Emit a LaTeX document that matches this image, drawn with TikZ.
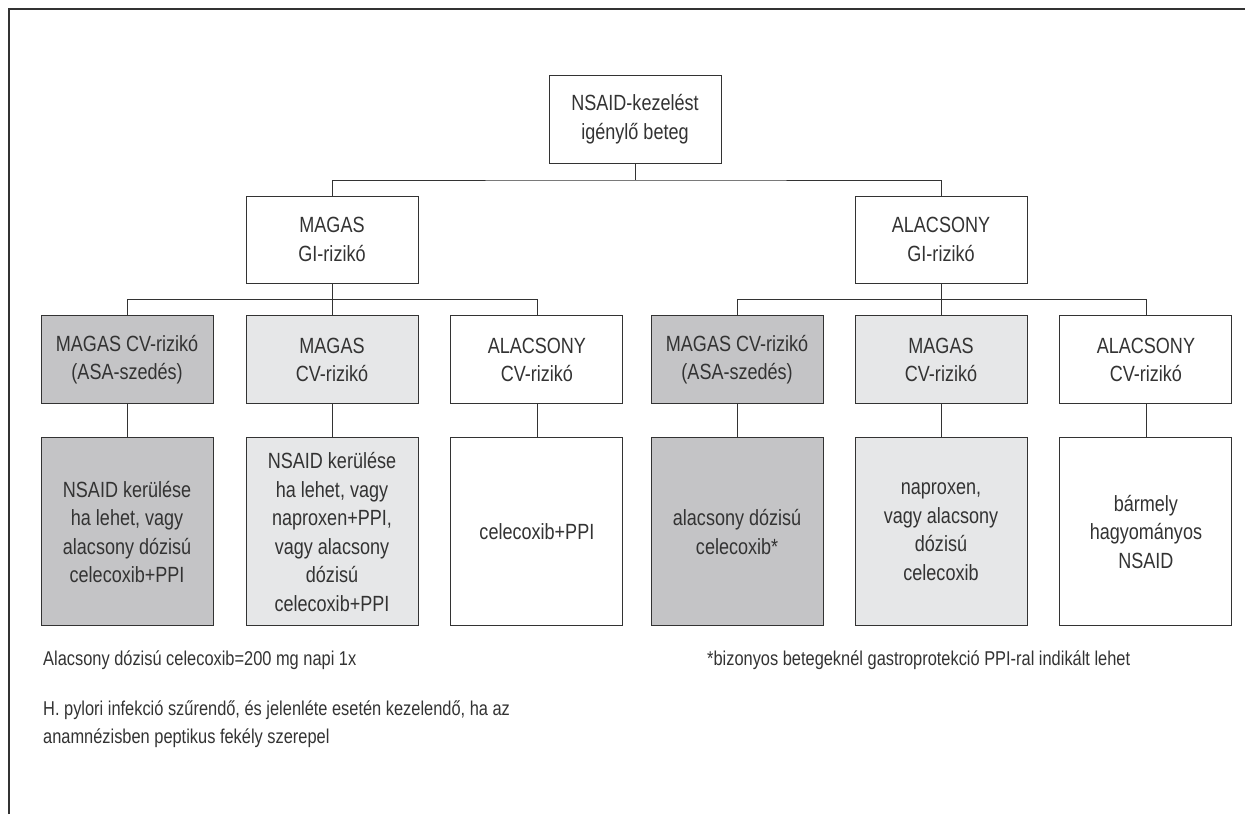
\documentclass[tikz,border=0pt]{standalone}
\usepackage{fontspec}
\setmainfont{Liberation Sans}[FakeStretch=0.82]
\usetikzlibrary{positioning}
\definecolor{ink}{HTML}{333333}
\definecolor{darkfill}{HTML}{C4C4C6}
\definecolor{lightfill}{HTML}{E6E7E8}
\begin{document}
\begin{tikzpicture}[x=1pt,y=-1pt,
  box/.style={draw=ink,line width=0.9pt,fill=white,text=ink,align=center,minimum width=172pt,inner sep=2pt,font=\fontsize{22}{28.5}\selectfont},
  gibox/.style={box,minimum height=87pt},
  cvbox/.style={box,minimum height=88pt},
  drugbox/.style={box,minimum height=188pt},
  conn/.style={draw=ink,line width=0.8pt},
  note/.style={text=ink,align=left,anchor=west,inner sep=0pt,font=\fontsize{20}{28}\selectfont}]
\useasboundingbox (0,0) rectangle (1245,814);
\draw[ink,line width=1.5pt] (9,814) -- (9,9) -- (1245,9);
\node[box,minimum height=88pt] (beteg) at (635,119) {NSAID-kezelést\\igénylő beteg};
\node[gibox] (magasGI) at (332,239.5) {MAGAS\\GI-rizikó};
\node[gibox] (alacsGI) at (941,239.5) {ALACSONY\\GI-rizikó};
\node[cvbox,fill=lightfill,below=32pt of magasGI] (magasCV1) {MAGAS\\CV-rizikó};
\node[cvbox,fill=darkfill,left=32pt of magasCV1] (asaCV1) {MAGAS CV-rizikó\\(ASA-szedés)};
\node[cvbox,right=32pt of magasCV1] (alacsCV1) {ALACSONY\\CV-rizikó};
\node[cvbox,fill=lightfill,below=32pt of alacsGI] (magasCV2) {MAGAS\\CV-rizikó};
\node[cvbox,fill=darkfill,left=31pt of magasCV2] (asaCV2) {MAGAS CV-rizikó\\(ASA-szedés)};
\node[cvbox,right=32pt of magasCV2] (alacsCV2) {ALACSONY\\CV-rizikó};
\node[drugbox,fill=darkfill,below=33pt of asaCV1] (ther1) {NSAID kerülése\\ha lehet, vagy\\alacsony dózisú\\celecoxib+PPI};
\node[drugbox,fill=lightfill,below=33pt of magasCV1] (ther2) {NSAID kerülése\\ha lehet, vagy\\naproxen+PPI,\\vagy alacsony\\dózisú\\celecoxib+PPI};
\node[drugbox,below=33pt of alacsCV1] (ther3) {celecoxib+PPI};
\node[drugbox,fill=darkfill,below=33pt of asaCV2] (ther4) {alacsony dózisú\\celecoxib*};
\node[drugbox,fill=lightfill,below=33pt of magasCV2] (ther5) {naproxen,\\vagy alacsony\\dózisú\\celecoxib};
\node[drugbox,below=33pt of alacsCV2] (ther6) {bármely\\hagyományos\\NSAID};
\coordinate (split) at (635,180);
\draw[conn] (beteg) -- (split);
\draw[conn] (magasGI) |- (split) -| (alacsGI);
\draw[conn] (magasGI) -- (magasCV1);
\draw[conn] (alacsGI) -- (magasCV2);
\draw[conn] (asaCV1.north) -- ++(0,-16) -| (alacsCV1.north);
\draw[conn] (asaCV2.north) -- ++(0,-16) -| (alacsCV2.north);
\foreach \a/\b in {asaCV1/ther1,magasCV1/ther2,alacsCV1/ther3,asaCV2/ther4,magasCV2/ther5,alacsCV2/ther6}
  \draw[conn] (\a) -- (\b);
\node[note] (dose) at (43,660) {Alacsony dózisú celecoxib=200 mg napi 1x};
\node[note] (pylori) at (43,724) {H. pylori infekció szűrendő, és jelenléte esetén kezelendő, ha az\\anamnézisben peptikus fekély szerepel};
\node[note] (star) at (707,660) {*bizonyos betegeknél gastroprotekció PPI-ral indikált lehet};
\end{tikzpicture}
\end{document}
